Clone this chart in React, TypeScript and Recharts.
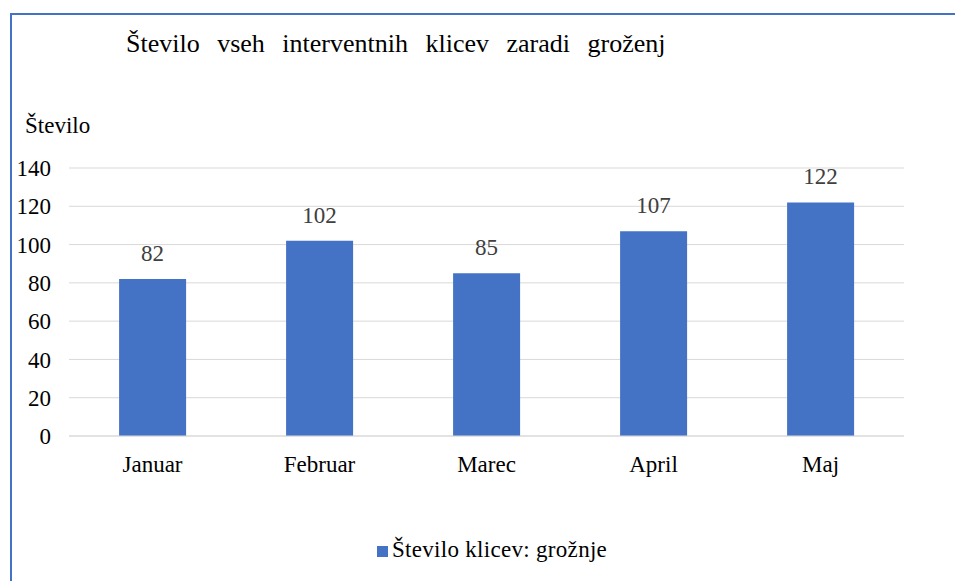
import React from "react";
import {
  BarChart,
  Bar,
  XAxis,
  YAxis,
  CartesianGrid,
  LabelList,
} from "recharts";

const months = ["Januar", "Februar", "Marec", "April", "Maj"];
const calls = [82, 102, 85, 107, 122];
const yTicks = [0, 20, 40, 60, 80, 100, 120, 140];

const TITLE = "Število vseh interventnih klicev zaradi groženj";
const Y_LABEL = "Število";
const SERIES = "Število klicev: grožnje";
const FONT = "Liberation Serif";
const BLUE = "#4472C4";

const data = months.map((m, i) => ({ month: m, value: calls[i] }));

const tickStyle = { fontFamily: FONT, fontSize: 23, fill: "#000" };

export default function App() {
  return (
    <div
      style={{
        position: "fixed",
        left: 0,
        top: 0,
        width: 955,
        height: 581,
        background: "#fff",
        overflow: "hidden",
        fontFamily: FONT,
        color: "#000",
      }}
    >
      <div
        style={{
          position: "absolute",
          left: 10,
          top: 13,
          width: 980,
          height: 620,
          border: `2px solid ${BLUE}`,
          boxSizing: "border-box",
        }}
      />
      <div
        style={{
          position: "absolute",
          left: 126,
          top: 31,
          fontSize: 26,
          lineHeight: 1,
          wordSpacing: 11,
          whiteSpace: "nowrap",
        }}
      >
        {TITLE}
      </div>
      <div
        style={{
          position: "absolute",
          left: 25,
          top: 114,
          fontSize: 23,
          lineHeight: 1,
        }}
      >
        {Y_LABEL}
      </div>
      <div style={{ position: "absolute", left: 0, top: 0 }}>
        <BarChart
          width={955}
          height={581}
          data={data}
          margin={{ top: 168, right: 51, bottom: 115, left: 9 }}
          barCategoryGap="30%"
          style={{ fontFamily: FONT }}
        >
          <CartesianGrid vertical={false} stroke="#d9d9d9" />
          <XAxis
            dataKey="month"
            axisLine={{ stroke: "#d9d9d9" }}
            tickLine={false}
            tickMargin={14}
            height={30}
            tick={tickStyle}
          />
          <YAxis
            domain={[0, 140]}
            ticks={yTicks}
            width={60}
            axisLine={false}
            tickLine={false}
            tickMargin={12}
            tick={tickStyle}
          />
          <Bar
            dataKey="value"
            name={SERIES}
            fill={BLUE}
            isAnimationActive={false}
          >
            <LabelList
              dataKey="value"
              position="top"
              offset={18}
              fontFamily={FONT}
              fontSize={23}
              fill="#404040"
            />
          </Bar>
        </BarChart>
      </div>
      <div
        style={{
          position: "absolute",
          left: 377,
          top: 538,
          display: "flex",
          alignItems: "center",
          fontSize: 23,
          lineHeight: 1,
          letterSpacing: 0.3,
          whiteSpace: "nowrap",
        }}
      >
        <span
          style={{
            display: "inline-block",
            width: 11,
            height: 11,
            background: BLUE,
            marginRight: 4,
            marginTop: 3,
          }}
        />
        <span>{SERIES}</span>
      </div>
    </div>
  );
}
